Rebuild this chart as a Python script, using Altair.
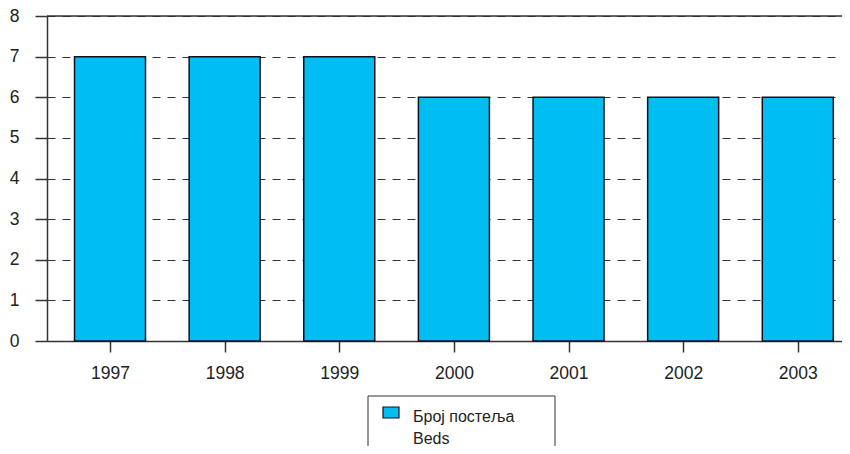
import altair as alt
import pandas as pd

years = [1997, 1998, 1999, 2000, 2001, 2002, 2003]
beds = [7, 7, 7, 6, 6, 6, 6]
y_ticks = [0, 1, 2, 3, 4, 5, 6, 7, 8]
legend_lines = ["Број постеља", "Beds"]

BAR = "#00BEF2"
INK = "#333333"
FONT = "Liberation Sans"

df = pd.DataFrame({"year": years, "beds": beds})

x_scale = alt.Scale(domain=[1996.494, 2003.342], nice=False, zero=False)
y_scale = alt.Scale(domain=[0, 8], nice=False)

bars = alt.Chart(df).mark_bar(size=71, fill=BAR, stroke="#111122", strokeWidth=1.5).encode(
    x=alt.X("year:Q", scale=x_scale,
            axis=alt.Axis(values=years, format="d", title=None, grid=False,
                          domainColor=INK, domainWidth=1.5, tickColor=INK, tickWidth=1.5,
                          tickSize=11, labelPadding=12, labelFontSize=17.5, labelFont=FONT,
                          labelColor="#222222")),
    y=alt.Y("beds:Q", scale=y_scale,
            axis=alt.Axis(values=y_ticks, title=None, grid=True, gridDash=[8, 7],
                          gridColor=INK, gridWidth=1.2, domainColor=INK, domainWidth=1.5,
                          tickColor=INK, tickWidth=1.5, tickSize=12, labelPadding=16,
                          labelFontSize=17.5, labelFont=FONT, labelColor="#222222")),
)

top_line = alt.Chart(pd.DataFrame({"v": [y_ticks[-1]]})).mark_rule(color=INK, strokeWidth=1.5).encode(
    y=alt.Y("v:Q", scale=y_scale),
)

legend_box = alt.Chart(pd.DataFrame({"k": [0]})).mark_rect(fill="white", stroke=INK, strokeWidth=1).encode(
    x=alt.value(321), x2=alt.value(508), y=alt.value(380), y2=alt.value(470)
)
legend_swatch = alt.Chart(pd.DataFrame({"k": [0]})).mark_rect(fill=BAR, stroke="#111122", strokeWidth=1.2).encode(
    x=alt.value(336), x2=alt.value(352), y=alt.value(391), y2=alt.value(402)
)
legend_df = pd.DataFrame({"label": legend_lines, "ypos": [406, 428]})
legend_text = alt.Chart(legend_df).mark_text(
    align="left", baseline="alphabetic", fontSize=16, font=FONT, color="#222222"
).encode(
    x=alt.value(366), y=alt.Y("ypos:Q", scale=None), text="label:N"
)

chart = alt.layer(bars, top_line, legend_box, legend_swatch, legend_text).properties(
    width=795, height=325,
    autosize=alt.AutoSizeParams(type="none"),
    padding={"left": 39, "top": 8, "right": 0, "bottom": 105},
).configure_view(stroke=None).configure(background="white")

chart.save("out.html", embed_options={"renderer": "svg", "actions": False})
